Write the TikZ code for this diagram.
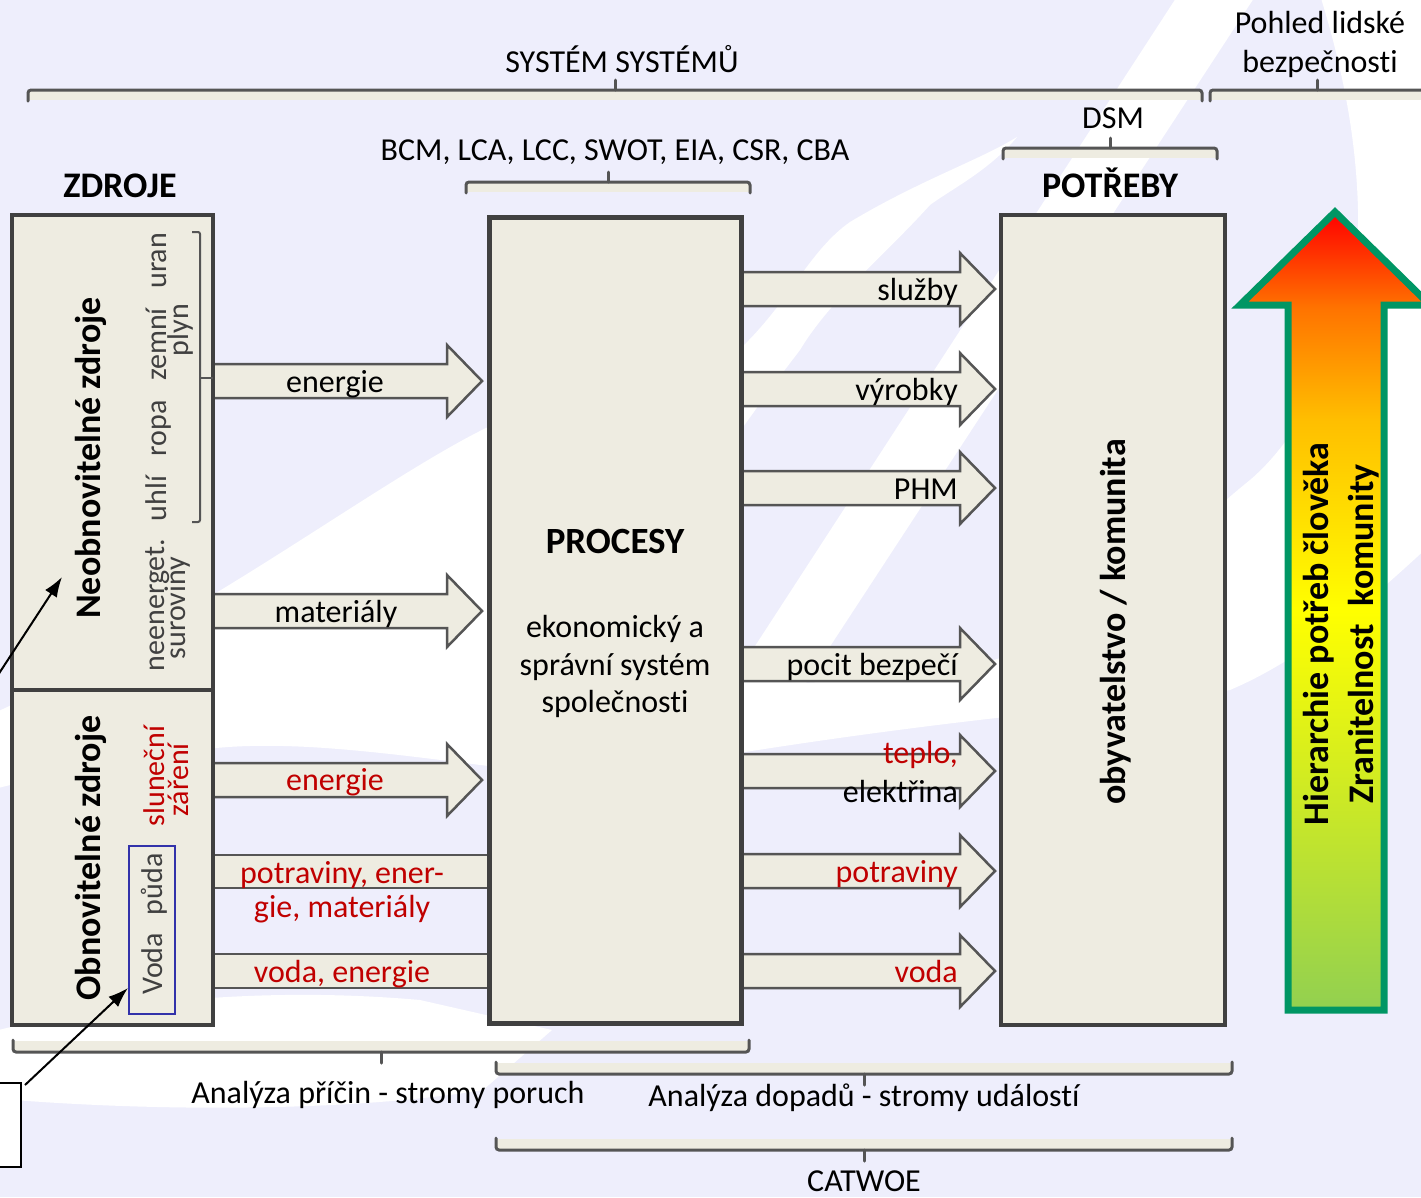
\documentclass[tikz,border=0pt]{standalone}
\usepackage{fontspec}
\setmainfont[Ligatures=NoCommon]{Carlito}
\usetikzlibrary{
  arrows.meta,
  backgrounds,
  calc,
}
\definecolor{lavender}{RGB}{238,238,252}
\definecolor{beige}{RGB}{238,236,225}
\definecolor{boxgray}{RGB}{64,64,64}
\definecolor{linegray}{RGB}{85,85,85}
\definecolor{darkred}{RGB}{192,0,0}
\definecolor{bluebox}{RGB}{50,50,170}
\definecolor{hgreen}{RGB}{146,208,80}
\definecolor{hborder}{RGB}{0,150,100}
\definecolor{horange}{RGB}{255,115,0}
\definecolor{hamber}{RGB}{255,190,0}
\pgfdeclareverticalshading{hierarchy}{100bp}{color(0bp)=(hgreen); color(25bp)=(hgreen); color(50bp)=(yellow); color(62bp)=(hamber); color(69bp)=(horange); color(75bp)=(red); color(100bp)=(red)}

\tikzstyle{block} = [draw=boxgray, line width=4pt, fill=beige, inner sep=0pt, outer sep=0pt, anchor=north west]
\tikzstyle{flow} = [draw=linegray, line width=2.5pt, fill=beige, line join=miter]
\tikzstyle{bracepath} = [draw=linegray, line width=3pt, rounded corners=3pt, line cap=round]
\tikzstyle{txt} = [inner sep=0pt, anchor=base, font=\fontsize{32}{38}\selectfont]
\tikzstyle{headtxt} = [inner sep=0pt, anchor=base, font=\fontsize{36}{42}\selectfont\bfseries]
\tikzstyle{srctxt} = [inner sep=0pt, rotate=90, text=boxgray, font=\fontsize{30}{30}\selectfont]
\tikzstyle{vtxt} = [inner sep=0pt, rotate=90, font=\fontsize{36}{42}\selectfont\bfseries]
\tikzstyle{ptr} = [-{Latex[length=20pt,width=14pt]}, line width=2pt, black]

% block arrow from #1 to its tip #2
\newcommand{\blockarrow}[2]{%
  \draw[flow] ($(#1)+(0,-17)$) -- ($(#2)+(-35,-17)$) -- ($(#2)+(-35,-36)$) -- (#2)
    -- ($(#2)+(-35,36)$) -- ($(#2)+(-35,17)$) -- ($(#1)+(0,17)$) -- cycle;}
% brace over a group: x1, x2, tick x, y
\newcommand{\topbrace}[4]{%
  \fill[beige] (#1,#4) rectangle (#2,{#4+10});
  \draw[bracepath] (#1,{#4+11}) -- (#1,#4) -- (#2,#4) -- (#2,{#4+11});
  \draw[bracepath] (#3,#4) -- (#3,{#4-10});}
\newcommand{\botbrace}[4]{%
  \fill[beige] (#1,{#4-11}) rectangle (#2,#4);
  \draw[bracepath] (#1,{#4-12}) -- (#1,#4) -- (#2,#4) -- (#2,{#4-12});
  \draw[bracepath] (#3,#4) -- (#3,{#4+11});}

\begin{document}
\begin{tikzpicture}[x=1pt,y=-1pt]
\useasboundingbox (0,0) rectangle (1421,1197);
\clip (0,0) rectangle (1421,1197);

% boxes
\node[block, minimum width=201, minimum height=475] (neobn) at (12,215) {};
\node[block, minimum width=201, minimum height=335] (obnov) at (12,690) {};
\node[block, line width=5pt, minimum width=252, minimum height=806] (procesy) at (489,217) {};
\node[block, minimum width=224, minimum height=810] (potreby) at (1001,215) {};

\begin{scope}[on background layer]
  \clip (0,0) rectangle (1421,1197);
  \fill[lavender] (0,0) rectangle (1421,1197);
  % white swooshes
  \fill[white] (-10,715) .. controls (100,665) and (160,620) .. (216,593)
    .. controls (320,530) and (420,460) .. (488,427)
    .. controls (600,380) and (700,370) .. (744,345)
    .. controls (790,300) and (810,250) .. (850,222)
    .. controls (920,180) and (980,160) .. (1017,137)
    .. controls (990,170) and (950,190) .. (930,205)
    .. controls (880,260) and (830,300) .. (800,350)
    .. controls (700,480) and (600,640) .. (520,770)
    .. controls (400,755) and (300,740) .. (216,748)
    .. controls (120,760) and (50,775) .. (-10,790) -- cycle;
  \fill[white] (1178,-5) -- (1256,-5) -- (795,700) -- (720,700) -- cycle;
  \fill[white] (600,700) .. controls (700,690) and (760,684) .. (800,683)
    .. controls (900,678) and (980,670) .. (1020,650)
    .. controls (1120,600) and (1200,520) .. (1250,480)
    .. controls (1320,420) and (1360,300) .. (1358,210)
    .. controls (1356,130) and (1340,60) .. (1320,-5) -- (1430,-5) -- (1430,545)
    .. controls (1360,610) and (1300,660) .. (1230,690)
    .. controls (1150,705) and (1000,712) .. (745,752)
    .. controls (680,762) and (620,768) .. (600,770) -- cycle;
  \fill[white] (-10,1032) .. controls (100,1005) and (250,985) .. (420,1000)
    -- (552,1030) -- (483,1090) .. controls (350,1112) and (150,1112) .. (-10,1098) -- cycle;

  % flows into the processes
  \coordinate (in1) at (neobn.center |- 0,381);
  \coordinate (in1t) at ($(procesy.west |- 0,381)+(-7,0)$);
  \blockarrow{in1}{in1t}
  \coordinate (in2) at (neobn.center |- 0,611);
  \coordinate (in2t) at ($(procesy.west |- 0,611)+(-7,0)$);
  \blockarrow{in2}{in2t}
  \coordinate (in3) at (obnov.center |- 0,780);
  \coordinate (in3t) at ($(procesy.west |- 0,780)+(-7,0)$);
  \blockarrow{in3}{in3t}
  \draw[flow] (obnov.center |- 0,855) rectangle (procesy.center |- 0,888);
  \draw[flow] (obnov.center |- 0,954) rectangle (procesy.center |- 0,988);

  % flows to the needs
  \foreach \y in {289,389,488,664,771,871,971}{
    \coordinate (pfrom) at (procesy.center |- 0,\y);
    \coordinate (pto) at ($(potreby.west |- 0,\y)+(-6,0)$);
    \blockarrow{pfrom}{pto}
  }
\end{scope}

% braces
\topbrace{28}{1202}{615}{90}
\topbrace{1210}{1440}{1317}{90}
\topbrace{1003}{1217}{1110}{148}
\topbrace{466}{750}{608}{182}
\botbrace{13}{749}{381}{1052}
\botbrace{496}{1232}{864}{1074}
\botbrace{496}{1232}{864}{1150}

% headings and labels
\node[txt] (systemy) at (622,72) {SYSTÉM SYSTÉMŮ};
\node[txt] (pohled1) at (1320,33) {Pohled lidské};
\node[txt] (pohled2) at (1320,72) {bezpečnosti};
\node[txt] (dsm) at (1113,128) {DSM};
\node[txt] (metody) at (615,160) {BCM, LCA, LCC, SWOT, EIA, CSR, CBA};
\node[headtxt] (zdroje) at (120,197) {ZDROJE};
\node[headtxt] (potrebyt) at (1110,197) {POTŘEBY};

% resources
\node[vtxt] (neobnt) at (91,458) {Neobnovitelné zdroje};
\node[srctxt] (fosil) at (158,377) {uhlí\hspace{0.65em}ropa\hspace{0.65em}zemní\hspace{0.65em}uran};
\node[srctxt] (plyn) at (180,330) {plyn};
\node[srctxt] (neenerget) at (158,605) {neenerget.};
\node[srctxt] (suroviny) at (178,608) {suroviny};
\draw[draw=linegray, line width=2pt, rounded corners=2pt] (192,232) -- (200,232) -- (200,522) -- (192,522);
\draw[draw=linegray, line width=2pt] (200,378) -- (neobn.east |- 0,378);
\node[vtxt] (obnovt) at (91,858) {Obnovitelné zdroje};
\node[srctxt, text=darkred] (slunecni) at (154,776) {sluneční};
\node[srctxt, text=darkred] (zareni) at (178,780) {záření};
\node[draw=bluebox, line width=1.5pt, minimum width=46, minimum height=168, anchor=north west, inner sep=0pt] (vodabox) at (128,845) {};
\node[srctxt] (vodapuda) at (154,924) {Voda\hspace{0.6em}půda};

% processes
\node[headtxt, font=\fontsize{37}{44}\selectfont\bfseries] (procesyt) at (615,553) {PROCESY};
\node[txt] (ekon1) at (615,637) {ekonomický a};
\node[txt] (ekon2) at (615,675) {správní systém};
\node[txt] (ekon3) at (615,712) {společnosti};

% flow labels
\node[txt] (energie1) at (335,392) {energie};
\node[txt] (materialy) at (336,622) {materiály};
\node[txt, text=darkred] (energie2) at (335,790) {energie};
\node[txt, text=darkred] (potr1) at (342,883) {potraviny, ener-};
\node[txt, text=darkred] (potr2) at (342,917) {gie, materiály};
\node[txt, text=darkred] (vodaen) at (342,982) {voda, energie};
\node[txt, anchor=base east] (sluzby) at (958,300) {služby};
\node[txt, anchor=base east] (vyrobky) at (958,400) {výrobky};
\node[txt, anchor=base east] (phm) at (958,499) {PHM};
\node[txt, anchor=base east] (bezpeci) at (958,675) {pocit bezpečí};
\node[txt, anchor=base east, text=darkred] (teplo) at (958,763) {teplo,};
\node[txt, anchor=base east] (elektrina) at (958,802) {elektřina};
\node[txt, anchor=base east, text=darkred] (potraviny) at (958,882) {potraviny};
\node[txt, anchor=base east, text=darkred] (voda) at (958,982) {voda};

% needs
\node[vtxt] (komunita) at (1116,622) {obyvatelstvo / komunita};
\shadedraw[shading=hierarchy, draw=hborder, line width=7pt, line join=miter]
  (1288,1010) -- (1288,305) -- (1240,305) -- (1335,212) -- (1430,305) -- (1384,305) -- (1384,1010) -- cycle;
\node[vtxt] (hierarchie) at (1319,634) {Hierarchie potřeb člověka};
\node[vtxt] (zranitelnost) at (1364,634) {Zranitelnost\hspace{0.5em}komunity};

% analyses
\node[txt] (pricin) at (388,1103) {Analýza příčin - stromy poruch};
\node[txt] (dopadu) at (864,1106) {Analýza dopadů - stromy událostí};
\node[txt] (catwoe) at (864,1191) {CATWOE};

% pointers from outside
\coordinate (ptrstart) at (-2,675);
\coordinate (ptrend) at (62,577);
\draw[ptr] (ptrstart) -- (ptrend);
\node[draw, line width=2pt, fill=white, minimum width=80, minimum height=84, anchor=north east, inner sep=0pt, outer sep=0pt] (extbox) at (21,1083) {};
\draw[ptr] ($(extbox.north east)+(4,2)$) -- (vodabox.west |- 0,988);

\end{tikzpicture}
\end{document}
